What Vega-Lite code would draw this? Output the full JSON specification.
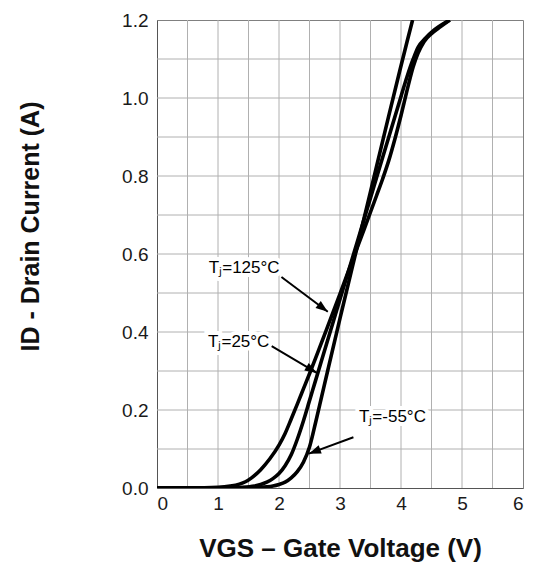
{
  "$schema": "https://vega.github.io/schema/vega-lite/v6.json",
  "autosize": "none",
  "width": 366,
  "height": 468,
  "padding": {"left": 157, "top": 20, "right": 11, "bottom": 83},
  "background": "white",
  "config": {
    "view": {"stroke": "#808080", "strokeWidth": 1},
    "font": "Liberation Sans",
    "axis": {
      "grid": false,
      "labelFont": "Liberation Sans",
      "labelFontSize": 19,
      "labelColor": "#1a1a1a",
      "titleFont": "Liberation Sans",
      "titleColor": "#111",
      "titleFontWeight": "bold",
      "ticks": false,
      "domainColor": "#555",
      "domainWidth": 1
    }
  },
  "datasets": {
    "gridV": [
      {"g": 0.5}, {"g": 1}, {"g": 1.5}, {"g": 2}, {"g": 2.5}, {"g": 3},
      {"g": 3.5}, {"g": 4}, {"g": 4.5}, {"g": 5}, {"g": 5.5}
    ],
    "gridH": [
      {"g": 0.1}, {"g": 0.2}, {"g": 0.3}, {"g": 0.4}, {"g": 0.5}, {"g": 0.6},
      {"g": 0.7}, {"g": 0.8}, {"g": 0.9}, {"g": 1.0}, {"g": 1.1}
    ],
    "curves": [
      {"V": 0.0, "I": 0.0, "T": "125"},
      {"V": 0.5, "I": 0.0003, "T": "125"},
      {"V": 1.0, "I": 0.002, "T": "125"},
      {"V": 1.2, "I": 0.005, "T": "125"},
      {"V": 1.35, "I": 0.01, "T": "125"},
      {"V": 1.45, "I": 0.016, "T": "125"},
      {"V": 1.55, "I": 0.026, "T": "125"},
      {"V": 1.7, "I": 0.047, "T": "125"},
      {"V": 1.85, "I": 0.075, "T": "125"},
      {"V": 2.0, "I": 0.11, "T": "125"},
      {"V": 2.1, "I": 0.14, "T": "125"},
      {"V": 2.2, "I": 0.177, "T": "125"},
      {"V": 2.3, "I": 0.215, "T": "125"},
      {"V": 2.4, "I": 0.254, "T": "125"},
      {"V": 2.5, "I": 0.293, "T": "125"},
      {"V": 2.6, "I": 0.333, "T": "125"},
      {"V": 2.8, "I": 0.415, "T": "125"},
      {"V": 3.0, "I": 0.498, "T": "125"},
      {"V": 3.2, "I": 0.582, "T": "125"},
      {"V": 3.4, "I": 0.665, "T": "125"},
      {"V": 3.6, "I": 0.75, "T": "125"},
      {"V": 3.7, "I": 0.793, "T": "125"},
      {"V": 3.8, "I": 0.84, "T": "125"},
      {"V": 3.9, "I": 0.895, "T": "125"},
      {"V": 4.0, "I": 0.955, "T": "125"},
      {"V": 4.1, "I": 1.02, "T": "125"},
      {"V": 4.2, "I": 1.08, "T": "125"},
      {"V": 4.28, "I": 1.115, "T": "125"},
      {"V": 4.38, "I": 1.145, "T": "125"},
      {"V": 4.5, "I": 1.165, "T": "125"},
      {"V": 4.65, "I": 1.183, "T": "125"},
      {"V": 4.8, "I": 1.2, "T": "125"},

      {"V": 0.0, "I": 0.0, "T": "25"},
      {"V": 1.0, "I": 0.0005, "T": "25"},
      {"V": 1.4, "I": 0.002, "T": "25"},
      {"V": 1.6, "I": 0.005, "T": "25"},
      {"V": 1.7, "I": 0.009, "T": "25"},
      {"V": 1.8, "I": 0.015, "T": "25"},
      {"V": 1.9, "I": 0.024, "T": "25"},
      {"V": 2.0, "I": 0.037, "T": "25"},
      {"V": 2.1, "I": 0.057, "T": "25"},
      {"V": 2.2, "I": 0.085, "T": "25"},
      {"V": 2.3, "I": 0.125, "T": "25"},
      {"V": 2.4, "I": 0.172, "T": "25"},
      {"V": 2.5, "I": 0.224, "T": "25"},
      {"V": 2.6, "I": 0.276, "T": "25"},
      {"V": 2.8, "I": 0.38, "T": "25"},
      {"V": 3.0, "I": 0.484, "T": "25"},
      {"V": 3.2, "I": 0.588, "T": "25"},
      {"V": 3.4, "I": 0.692, "T": "25"},
      {"V": 3.6, "I": 0.796, "T": "25"},
      {"V": 3.8, "I": 0.9, "T": "25"},
      {"V": 4.0, "I": 1.004, "T": "25"},
      {"V": 4.1, "I": 1.055, "T": "25"},
      {"V": 4.2, "I": 1.1, "T": "25"},
      {"V": 4.28, "I": 1.13, "T": "25"},
      {"V": 4.4, "I": 1.153, "T": "25"},
      {"V": 4.55, "I": 1.175, "T": "25"},
      {"V": 4.8, "I": 1.2, "T": "25"},

      {"V": 0.0, "I": 0.0, "T": "-55"},
      {"V": 1.0, "I": 0.0002, "T": "-55"},
      {"V": 1.5, "I": 0.0008, "T": "-55"},
      {"V": 1.8, "I": 0.003, "T": "-55"},
      {"V": 1.9, "I": 0.005, "T": "-55"},
      {"V": 2.0, "I": 0.009, "T": "-55"},
      {"V": 2.1, "I": 0.015, "T": "-55"},
      {"V": 2.2, "I": 0.026, "T": "-55"},
      {"V": 2.3, "I": 0.042, "T": "-55"},
      {"V": 2.4, "I": 0.066, "T": "-55"},
      {"V": 2.5, "I": 0.105, "T": "-55"},
      {"V": 2.6, "I": 0.168, "T": "-55"},
      {"V": 2.7, "I": 0.235, "T": "-55"},
      {"V": 2.8, "I": 0.302, "T": "-55"},
      {"V": 3.0, "I": 0.435, "T": "-55"},
      {"V": 3.2, "I": 0.565, "T": "-55"},
      {"V": 3.4, "I": 0.695, "T": "-55"},
      {"V": 3.6, "I": 0.825, "T": "-55"},
      {"V": 3.8, "I": 0.955, "T": "-55"},
      {"V": 3.98, "I": 1.07, "T": "-55"},
      {"V": 4.1, "I": 1.145, "T": "-55"},
      {"V": 4.19, "I": 1.2, "T": "-55"}
    ],
    "notes": [
      {"label": "Tⱼ=125°C", "tx": 1.43, "ty": 0.565, "x1": 2.04, "y1": 0.541, "x2": 2.8, "y2": 0.452, "heading": 36.7},
      {"label": "Tⱼ=25°C", "tx": 1.34, "ty": 0.375, "x1": 1.88, "y1": 0.364, "x2": 2.62, "y2": 0.295, "heading": 31},
      {"label": "Tⱼ=-55°C", "tx": 3.86, "ty": 0.182, "x1": 3.22, "y1": 0.13, "x2": 2.49, "y2": 0.088, "heading": 159.5}
    ]
  },
  "layer": [
    {
      "data": {"name": "gridV"},
      "mark": {"type": "rule", "color": "#b0b0b0", "strokeWidth": 1},
      "encoding": {
        "x": {
          "field": "g", "type": "quantitative",
          "scale": {"domain": [0, 6], "nice": false},
          "axis": {
            "values": [0, 1, 2, 3, 4, 5, 6],
            "format": "d",
            "labelPadding": 6,
            "title": "VGS – Gate Voltage (V)",
            "titleFontSize": 26,
            "titlePadding": 22
          }
        }
      }
    },
    {
      "data": {"name": "gridH"},
      "mark": {"type": "rule", "color": "#b0b0b0", "strokeWidth": 1},
      "encoding": {
        "y": {
          "field": "g", "type": "quantitative",
          "scale": {"domain": [0, 1.2], "nice": false},
          "axis": {
            "values": [0, 0.2, 0.4, 0.6, 0.8, 1.0, 1.2],
            "format": ".1f",
            "labelPadding": 9,
            "title": "ID - Drain Current (A)",
            "titleFontSize": 25,
            "titleX": -127,
            "titleY": 206,
            "titleAngle": -90,
            "titleBaseline": "middle",
            "titleAlign": "center"
          }
        }
      }
    },
    {
      "data": {"name": "curves"},
      "mark": {"type": "line", "color": "black", "strokeWidth": 3.6, "interpolate": "monotone", "clip": true},
      "encoding": {
        "x": {"field": "V", "type": "quantitative", "title": "VGS – Gate Voltage (V)"},
        "y": {"field": "I", "type": "quantitative", "title": "ID - Drain Current (A)"},
        "detail": {"field": "T"}
      }
    },
    {
      "data": {"name": "notes"},
      "mark": {"type": "text", "fontSize": 17, "font": "Liberation Sans", "align": "center", "baseline": "middle", "stroke": "white", "strokeWidth": 8, "fill": "white"},
      "encoding": {
        "x": {"field": "tx", "type": "quantitative", "title": "VGS – Gate Voltage (V)"},
        "y": {"field": "ty", "type": "quantitative", "title": "ID - Drain Current (A)"},
        "text": {"field": "label"}
      }
    },
    {
      "data": {"name": "notes"},
      "mark": {"type": "rule", "color": "black", "strokeWidth": 2},
      "encoding": {
        "x": {"field": "x1", "type": "quantitative", "title": "VGS – Gate Voltage (V)"},
        "y": {"field": "y1", "type": "quantitative", "title": "ID - Drain Current (A)"},
        "x2": {"field": "x2"},
        "y2": {"field": "y2"}
      }
    },
    {
      "data": {"name": "notes"},
      "mark": {"type": "point", "shape": "M0,0L-2.2,-0.8L-2.2,0.8Z", "filled": true, "color": "black", "opacity": 1, "size": 120},
      "encoding": {
        "x": {"field": "x2", "type": "quantitative", "title": "VGS – Gate Voltage (V)"},
        "y": {"field": "y2", "type": "quantitative", "title": "ID - Drain Current (A)"},
        "angle": {"field": "heading", "type": "quantitative", "scale": null}
      }
    },
    {
      "data": {"name": "notes"},
      "mark": {"type": "text", "fontSize": 17, "font": "Liberation Sans", "align": "center", "baseline": "middle", "color": "black"},
      "encoding": {
        "x": {"field": "tx", "type": "quantitative", "title": "VGS – Gate Voltage (V)"},
        "y": {"field": "ty", "type": "quantitative", "title": "ID - Drain Current (A)"},
        "text": {"field": "label"}
      }
    }
  ]
}
